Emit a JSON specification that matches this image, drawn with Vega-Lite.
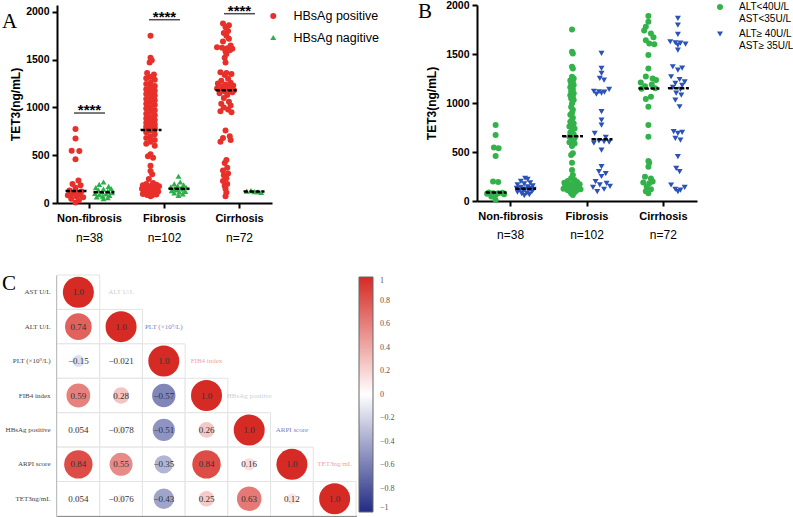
{
"$schema": "https://vega.github.io/schema/vega-lite/v6.json",
"autosize": {"type": "pad"},
"padding": {"left": 2, "top": 0, "right": 0, "bottom": 0},
"background": "white",
"columns": 2,
"spacing": {"row": 72, "column": 121},
"bounds": "flush",
"resolve": {"scale": {"color": "independent", "shape": "independent", "fill": "independent"}, "legend": {"color": "independent", "shape": "independent"}},
"config": {
  "view": {"stroke": null},
  "font": "Liberation Sans",
  "axis": {"zindex": 1, "grid": false, "domainColor": "#000", "tickColor": "#000", "labelColor": "#000", "titleColor": "#000", "domainWidth": 2, "tickWidth": 2, "tickSize": 5},
  "legend": {"labelColor": "#000"},
  "title": {"fontWeight": "normal", "color": "#000"}
},
"datasets": {
  "A_pos": [
    {"g":"Non-fibrosis","v":774,"j":0},{"g":"Non-fibrosis","v":676,"j":0},{"g":"Non-fibrosis","v":548,"j":-0.45},{"g":"Non-fibrosis","v":545,"j":0.45},{"g":"Non-fibrosis","v":458,"j":0},{"g":"Non-fibrosis","v":236,"j":0.35},{"g":"Non-fibrosis","v":200,"j":-0.35},{"g":"Non-fibrosis","v":185,"j":0.6},{"g":"Non-fibrosis","v":160,"j":0},{"g":"Non-fibrosis","v":130,"j":-0.7},{"g":"Non-fibrosis","v":120,"j":0.7},{"g":"Non-fibrosis","v":110,"j":0},{"g":"Non-fibrosis","v":100,"j":-0.4},{"g":"Non-fibrosis","v":90,"j":0.5},{"g":"Non-fibrosis","v":80,"j":-0.9},{"g":"Non-fibrosis","v":70,"j":0.1},{"g":"Non-fibrosis","v":60,"j":0.9},{"g":"Non-fibrosis","v":45,"j":-0.5},{"g":"Non-fibrosis","v":30,"j":0.4},{"g":"Non-fibrosis","v":5,"j":0},
    {"g":"Fibrosis","v":1752,"j":0},{"g":"Fibrosis","v":1520,"j":0},{"g":"Fibrosis","v":1495,"j":0.15},{"g":"Fibrosis","v":1470,"j":-0.1},{"g":"Fibrosis","v":1360,"j":-0.4},{"g":"Fibrosis","v":1345,"j":0.4},{"g":"Fibrosis","v":1320,"j":0},{"g":"Fibrosis","v":1305,"j":-0.5},{"g":"Fibrosis","v":1290,"j":0.5},{"g":"Fibrosis","v":1260,"j":0},{"g":"Fibrosis","v":1245,"j":-0.5},{"g":"Fibrosis","v":1225,"j":0.5},{"g":"Fibrosis","v":1210,"j":0},{"g":"Fibrosis","v":1190,"j":-0.5},{"g":"Fibrosis","v":1175,"j":0.5},{"g":"Fibrosis","v":1160,"j":0},{"g":"Fibrosis","v":1140,"j":-0.5},{"g":"Fibrosis","v":1125,"j":0.5},{"g":"Fibrosis","v":1110,"j":0},{"g":"Fibrosis","v":1090,"j":-0.5},{"g":"Fibrosis","v":1075,"j":0.5},{"g":"Fibrosis","v":1060,"j":0},{"g":"Fibrosis","v":1040,"j":-0.5},{"g":"Fibrosis","v":1025,"j":0.5},{"g":"Fibrosis","v":1005,"j":0},{"g":"Fibrosis","v":990,"j":-0.5},{"g":"Fibrosis","v":970,"j":0.5},{"g":"Fibrosis","v":955,"j":0},{"g":"Fibrosis","v":935,"j":-0.5},{"g":"Fibrosis","v":920,"j":0.5},{"g":"Fibrosis","v":900,"j":0},{"g":"Fibrosis","v":885,"j":-0.5},{"g":"Fibrosis","v":870,"j":0.5},{"g":"Fibrosis","v":855,"j":0},{"g":"Fibrosis","v":840,"j":-0.5},{"g":"Fibrosis","v":825,"j":0.5},{"g":"Fibrosis","v":810,"j":0},{"g":"Fibrosis","v":800,"j":-0.5},{"g":"Fibrosis","v":790,"j":0.5},{"g":"Fibrosis","v":780,"j":0},{"g":"Fibrosis","v":772,"j":-0.5},{"g":"Fibrosis","v":766,"j":0.5},
    {"g":"Fibrosis","v":760,"j":0},{"g":"Fibrosis","v":740,"j":-0.5},{"g":"Fibrosis","v":720,"j":0.5},{"g":"Fibrosis","v":700,"j":0},{"g":"Fibrosis","v":680,"j":-0.5},{"g":"Fibrosis","v":660,"j":0.5},{"g":"Fibrosis","v":640,"j":0},{"g":"Fibrosis","v":620,"j":-0.5},{"g":"Fibrosis","v":600,"j":0.5},{"g":"Fibrosis","v":510,"j":0},{"g":"Fibrosis","v":490,"j":-0.3},{"g":"Fibrosis","v":475,"j":0.3},{"g":"Fibrosis","v":390,"j":0},{"g":"Fibrosis","v":335,"j":0},{"g":"Fibrosis","v":300,"j":0.2},{"g":"Fibrosis","v":250,"j":-0.2},{"g":"Fibrosis","v":210,"j":0.3},{"g":"Fibrosis","v":200,"j":-0.5},{"g":"Fibrosis","v":190,"j":0.7},{"g":"Fibrosis","v":185,"j":-0.9},{"g":"Fibrosis","v":180,"j":0.1},{"g":"Fibrosis","v":175,"j":1},{"g":"Fibrosis","v":170,"j":-0.3},{"g":"Fibrosis","v":165,"j":0.5},{"g":"Fibrosis","v":160,"j":-0.7},{"g":"Fibrosis","v":155,"j":0.2},{"g":"Fibrosis","v":150,"j":-1},{"g":"Fibrosis","v":145,"j":0.8},{"g":"Fibrosis","v":140,"j":-0.4},{"g":"Fibrosis","v":135,"j":0.4},{"g":"Fibrosis","v":130,"j":-0.8},{"g":"Fibrosis","v":125,"j":0},{"g":"Fibrosis","v":120,"j":0.9},{"g":"Fibrosis","v":115,"j":-0.6},{"g":"Fibrosis","v":110,"j":0.6},{"g":"Fibrosis","v":105,"j":-0.2},{"g":"Fibrosis","v":100,"j":0.3},{"g":"Fibrosis","v":95,"j":-0.9},{"g":"Fibrosis","v":90,"j":0.7},{"g":"Fibrosis","v":85,"j":-0.4},{"g":"Fibrosis","v":80,"j":0.2},{"g":"Fibrosis","v":70,"j":0},
    {"g":"Cirrhosis","v":1880,"j":-0.3},{"g":"Cirrhosis","v":1860,"j":0.4},{"g":"Cirrhosis","v":1840,"j":0},{"g":"Cirrhosis","v":1800,"j":0.3},{"g":"Cirrhosis","v":1780,"j":-0.2},{"g":"Cirrhosis","v":1750,"j":0.1},{"g":"Cirrhosis","v":1720,"j":0.4},{"g":"Cirrhosis","v":1690,"j":-0.3},{"g":"Cirrhosis","v":1650,"j":0.6},{"g":"Cirrhosis","v":1630,"j":-1},{"g":"Cirrhosis","v":1625,"j":-0.4},{"g":"Cirrhosis","v":1620,"j":0.2},{"g":"Cirrhosis","v":1615,"j":0.8},{"g":"Cirrhosis","v":1600,"j":0.5},{"g":"Cirrhosis","v":1590,"j":0},{"g":"Cirrhosis","v":1560,"j":0.1},{"g":"Cirrhosis","v":1520,"j":-0.1},{"g":"Cirrhosis","v":1470,"j":0},{"g":"Cirrhosis","v":1370,"j":-0.6},{"g":"Cirrhosis","v":1360,"j":0.1},{"g":"Cirrhosis","v":1350,"j":0.7},{"g":"Cirrhosis","v":1340,"j":-0.1},{"g":"Cirrhosis","v":1300,"j":0.3},{"g":"Cirrhosis","v":1280,"j":-0.5},{"g":"Cirrhosis","v":1260,"j":0.6},{"g":"Cirrhosis","v":1250,"j":-0.9},{"g":"Cirrhosis","v":1240,"j":0},{"g":"Cirrhosis","v":1230,"j":0.9},{"g":"Cirrhosis","v":1220,"j":-0.4},{"g":"Cirrhosis","v":1210,"j":0.4},{"g":"Cirrhosis","v":1200,"j":-1},{"g":"Cirrhosis","v":1185,"j":0.1},{"g":"Cirrhosis","v":1180,"j":1},{"g":"Cirrhosis","v":1178,"j":-0.5},{"g":"Cirrhosis","v":1175,"j":0.5},{"g":"Cirrhosis","v":1170,"j":-0.1},{"g":"Cirrhosis","v":1160,"j":0.8},{"g":"Cirrhosis","v":1150,"j":-0.7},{"g":"Cirrhosis","v":1130,"j":0.2},{"g":"Cirrhosis","v":1100,"j":-0.2},{"g":"Cirrhosis","v":1060,"j":0.4},{"g":"Cirrhosis","v":1040,"j":-0.5},{"g":"Cirrhosis","v":1020,"j":0.6},{"g":"Cirrhosis","v":1000,"j":-0.2},{"g":"Cirrhosis","v":980,"j":0.3},{"g":"Cirrhosis","v":960,"j":-0.6},{"g":"Cirrhosis","v":950,"j":0.7},{"g":"Cirrhosis","v":760,"j":0},{"g":"Cirrhosis","v":700,"j":0.5},{"g":"Cirrhosis","v":680,"j":-0.3},{"g":"Cirrhosis","v":660,"j":0.6},{"g":"Cirrhosis","v":640,"j":-0.6},{"g":"Cirrhosis","v":450,"j":0.1},{"g":"Cirrhosis","v":420,"j":-0.1},{"g":"Cirrhosis","v":370,"j":0.2},{"g":"Cirrhosis","v":340,"j":-0.3},{"g":"Cirrhosis","v":310,"j":0.3},{"g":"Cirrhosis","v":290,"j":-0.2},{"g":"Cirrhosis","v":260,"j":0.1},{"g":"Cirrhosis","v":230,"j":-0.3},{"g":"Cirrhosis","v":200,"j":0.2},{"g":"Cirrhosis","v":180,"j":-0.1},{"g":"Cirrhosis","v":150,"j":0},{"g":"Cirrhosis","v":110,"j":0.1},{"g":"Cirrhosis","v":70,"j":0}
  ],
  "A_neg": [
    {"g":"Non-fibrosis","v":220,"j":0},{"g":"Non-fibrosis","v":195,"j":-0.5},{"g":"Non-fibrosis","v":175,"j":0.6},{"g":"Non-fibrosis","v":160,"j":-0.9},{"g":"Non-fibrosis","v":152,"j":0.9},{"g":"Non-fibrosis","v":145,"j":0},{"g":"Non-fibrosis","v":135,"j":-0.6},{"g":"Non-fibrosis","v":125,"j":0.5},{"g":"Non-fibrosis","v":115,"j":-0.2},{"g":"Non-fibrosis","v":108,"j":1},{"g":"Non-fibrosis","v":100,"j":-1},{"g":"Non-fibrosis","v":95,"j":0.3},{"g":"Non-fibrosis","v":88,"j":-0.5},{"g":"Non-fibrosis","v":80,"j":0.7},{"g":"Non-fibrosis","v":72,"j":-0.1},{"g":"Non-fibrosis","v":64,"j":-0.8},{"g":"Non-fibrosis","v":55,"j":0.5},{"g":"Non-fibrosis","v":45,"j":0},
    {"g":"Fibrosis","v":280,"j":0},{"g":"Fibrosis","v":220,"j":0.2},{"g":"Fibrosis","v":200,"j":-0.5},{"g":"Fibrosis","v":190,"j":0.6},{"g":"Fibrosis","v":178,"j":-0.1},{"g":"Fibrosis","v":168,"j":-0.9},{"g":"Fibrosis","v":160,"j":0.9},{"g":"Fibrosis","v":155,"j":0.3},{"g":"Fibrosis","v":150,"j":-0.5},{"g":"Fibrosis","v":145,"j":0.6},{"g":"Fibrosis","v":138,"j":-0.2},{"g":"Fibrosis","v":130,"j":-0.8},{"g":"Fibrosis","v":122,"j":0.8},{"g":"Fibrosis","v":115,"j":0.1},{"g":"Fibrosis","v":105,"j":-0.5},{"g":"Fibrosis","v":95,"j":0.5},{"g":"Fibrosis","v":80,"j":0},
    {"g":"Cirrhosis","v":125,"j":-0.8},{"g":"Cirrhosis","v":130,"j":-0.3},{"g":"Cirrhosis","v":120,"j":0.1},{"g":"Cirrhosis","v":118,"j":0.5},{"g":"Cirrhosis","v":112,"j":0.9}
  ],
  "A_sig": [
    {"g":"Non-fibrosis","v":942},{"g":"Fibrosis","v":1919},{"g":"Cirrhosis","v":1982}
  ],
  "B_low": [
    {"g":"Non-fibrosis","v":775,"j":0},{"g":"Non-fibrosis","v":673,"j":0},{"g":"Non-fibrosis","v":547,"j":-0.2},{"g":"Non-fibrosis","v":537,"j":0.35},{"g":"Non-fibrosis","v":459,"j":0},{"g":"Non-fibrosis","v":200,"j":-0.3},{"g":"Non-fibrosis","v":194,"j":0.3},{"g":"Non-fibrosis","v":88,"j":-0.8},{"g":"Non-fibrosis","v":84,"j":0.8},{"g":"Non-fibrosis","v":80,"j":-0.3},{"g":"Non-fibrosis","v":78,"j":0.3},{"g":"Non-fibrosis","v":75,"j":-1},{"g":"Non-fibrosis","v":70,"j":1},{"g":"Non-fibrosis","v":60,"j":0},{"g":"Non-fibrosis","v":45,"j":-0.5},{"g":"Non-fibrosis","v":10,"j":0},
    {"g":"Fibrosis","v":1751,"j":0},{"g":"Fibrosis","v":1523,"j":0},{"g":"Fibrosis","v":1506,"j":0.1},{"g":"Fibrosis","v":1370,"j":0},{"g":"Fibrosis","v":1353,"j":0.1},{"g":"Fibrosis","v":1268,"j":0},{"g":"Fibrosis","v":1250,"j":0.2},{"g":"Fibrosis","v":1230,"j":-0.2},{"g":"Fibrosis","v":1215,"j":0.1},{"g":"Fibrosis","v":1200,"j":-0.1},{"g":"Fibrosis","v":1183,"j":0.2},{"g":"Fibrosis","v":1160,"j":-0.2},{"g":"Fibrosis","v":1140,"j":0.1},{"g":"Fibrosis","v":1120,"j":-0.1},{"g":"Fibrosis","v":1100,"j":0.2},{"g":"Fibrosis","v":1080,"j":-0.2},{"g":"Fibrosis","v":1060,"j":0.1},{"g":"Fibrosis","v":1045,"j":-0.1},{"g":"Fibrosis","v":1030,"j":0.2},{"g":"Fibrosis","v":996,"j":0},{"g":"Fibrosis","v":960,"j":-0.1},{"g":"Fibrosis","v":930,"j":0.1},{"g":"Fibrosis","v":900,"j":0},{"g":"Fibrosis","v":880,"j":-0.2},{"g":"Fibrosis","v":850,"j":0.1},{"g":"Fibrosis","v":826,"j":0},{"g":"Fibrosis","v":809,"j":-0.2},{"g":"Fibrosis","v":790,"j":0.2},{"g":"Fibrosis","v":775,"j":0},{"g":"Fibrosis","v":760,"j":-0.3},{"g":"Fibrosis","v":741,"j":0.3},{"g":"Fibrosis","v":720,"j":0},{"g":"Fibrosis","v":700,"j":-0.2},{"g":"Fibrosis","v":680,"j":0.2},{"g":"Fibrosis","v":665,"j":0},
    {"g":"Fibrosis","v":656,"j":-0.3},{"g":"Fibrosis","v":640,"j":0.3},{"g":"Fibrosis","v":620,"j":0},{"g":"Fibrosis","v":600,"j":-0.3},{"g":"Fibrosis","v":588,"j":0.3},{"g":"Fibrosis","v":560,"j":0},{"g":"Fibrosis","v":486,"j":0.1},{"g":"Fibrosis","v":469,"j":-0.1},{"g":"Fibrosis","v":391,"j":0},{"g":"Fibrosis","v":316,"j":0},{"g":"Fibrosis","v":265,"j":0.1},{"g":"Fibrosis","v":231,"j":-0.1},{"g":"Fibrosis","v":214,"j":0.3},{"g":"Fibrosis","v":205,"j":-0.5},{"g":"Fibrosis","v":195,"j":0.6},{"g":"Fibrosis","v":185,"j":-0.9},{"g":"Fibrosis","v":175,"j":0.1},{"g":"Fibrosis","v":170,"j":0.9},{"g":"Fibrosis","v":165,"j":-0.4},{"g":"Fibrosis","v":160,"j":0.5},{"g":"Fibrosis","v":155,"j":-0.8},{"g":"Fibrosis","v":150,"j":0.2},{"g":"Fibrosis","v":145,"j":-0.2},{"g":"Fibrosis","v":140,"j":0.8},{"g":"Fibrosis","v":135,"j":-0.6},{"g":"Fibrosis","v":130,"j":0.4},{"g":"Fibrosis","v":125,"j":-1},{"g":"Fibrosis","v":120,"j":1},{"g":"Fibrosis","v":115,"j":0},{"g":"Fibrosis","v":110,"j":-0.5},{"g":"Fibrosis","v":105,"j":0.5},{"g":"Fibrosis","v":100,"j":-0.2},{"g":"Fibrosis","v":90,"j":0.3},{"g":"Fibrosis","v":80,"j":-0.1},{"g":"Fibrosis","v":61,"j":0.1},
    {"g":"Cirrhosis","v":1887,"j":0},{"g":"Cirrhosis","v":1829,"j":0},{"g":"Cirrhosis","v":1778,"j":-0.3},{"g":"Cirrhosis","v":1740,"j":-0.5},{"g":"Cirrhosis","v":1710,"j":0.3},{"g":"Cirrhosis","v":1670,"j":0.6},{"g":"Cirrhosis","v":1640,"j":-0.3},{"g":"Cirrhosis","v":1608,"j":0.1},{"g":"Cirrhosis","v":1600,"j":0.7},{"g":"Cirrhosis","v":1489,"j":0},{"g":"Cirrhosis","v":1353,"j":0},{"g":"Cirrhosis","v":1270,"j":-0.3},{"g":"Cirrhosis","v":1251,"j":0.5},{"g":"Cirrhosis","v":1234,"j":0.9},{"g":"Cirrhosis","v":1210,"j":-0.9},{"g":"Cirrhosis","v":1190,"j":0.4},{"g":"Cirrhosis","v":1170,"j":-0.4},{"g":"Cirrhosis","v":1150,"j":0.8},{"g":"Cirrhosis","v":1145,"j":-0.8},{"g":"Cirrhosis","v":1064,"j":0.3},{"g":"Cirrhosis","v":1040,"j":-0.3},{"g":"Cirrhosis","v":962,"j":0},{"g":"Cirrhosis","v":775,"j":0},{"g":"Cirrhosis","v":656,"j":0},{"g":"Cirrhosis","v":408,"j":0},{"g":"Cirrhosis","v":390,"j":0.1},{"g":"Cirrhosis","v":350,"j":0},{"g":"Cirrhosis","v":248,"j":-0.4},{"g":"Cirrhosis","v":230,"j":0.3},{"g":"Cirrhosis","v":200,"j":0.5},{"g":"Cirrhosis","v":190,"j":-0.6},{"g":"Cirrhosis","v":180,"j":0.1},{"g":"Cirrhosis","v":146,"j":-0.2},{"g":"Cirrhosis","v":120,"j":0.3},{"g":"Cirrhosis","v":100,"j":-0.3},{"g":"Cirrhosis","v":78,"j":0}
  ],
  "B_high": [
    {"g":"Non-fibrosis","v":232,"j":0},{"g":"Non-fibrosis","v":220,"j":0.3},{"g":"Non-fibrosis","v":200,"j":-0.5},{"g":"Non-fibrosis","v":185,"j":0.6},{"g":"Non-fibrosis","v":175,"j":-0.1},{"g":"Non-fibrosis","v":165,"j":-0.9},{"g":"Non-fibrosis","v":155,"j":0.9},{"g":"Non-fibrosis","v":145,"j":0.3},{"g":"Non-fibrosis","v":140,"j":-0.5},{"g":"Non-fibrosis","v":130,"j":-1},{"g":"Non-fibrosis","v":128,"j":0.7},{"g":"Non-fibrosis","v":122,"j":0},{"g":"Non-fibrosis","v":118,"j":1},{"g":"Non-fibrosis","v":110,"j":-0.6},{"g":"Non-fibrosis","v":105,"j":0.4},{"g":"Non-fibrosis","v":100,"j":-0.2},{"g":"Non-fibrosis","v":95,"j":0.8},{"g":"Non-fibrosis","v":90,"j":-0.9},{"g":"Non-fibrosis","v":80,"j":0.2},{"g":"Non-fibrosis","v":75,"j":-0.4},{"g":"Non-fibrosis","v":65,"j":0.5},{"g":"Non-fibrosis","v":55,"j":-0.1},
    {"g":"Fibrosis","v":1506,"j":0},{"g":"Fibrosis","v":1353,"j":0},{"g":"Fibrosis","v":1302,"j":0},{"g":"Fibrosis","v":1251,"j":-0.2},{"g":"Fibrosis","v":1234,"j":0.3},{"g":"Fibrosis","v":1140,"j":0.9},{"g":"Fibrosis","v":1120,"j":-0.9},{"g":"Fibrosis","v":1115,"j":-0.3},{"g":"Fibrosis","v":1110,"j":0.35},{"g":"Fibrosis","v":1100,"j":0},{"g":"Fibrosis","v":1090,"j":-0.6},{"g":"Fibrosis","v":911,"j":0},{"g":"Fibrosis","v":826,"j":0},{"g":"Fibrosis","v":775,"j":0},{"g":"Fibrosis","v":690,"j":-0.8},{"g":"Fibrosis","v":650,"j":0.5},{"g":"Fibrosis","v":612,"j":-0.3},{"g":"Fibrosis","v":605,"j":0.3},{"g":"Fibrosis","v":600,"j":0.9},{"g":"Fibrosis","v":590,"j":-0.9},{"g":"Fibrosis","v":520,"j":0},{"g":"Fibrosis","v":350,"j":0},{"g":"Fibrosis","v":299,"j":-0.3},{"g":"Fibrosis","v":280,"j":0.5},{"g":"Fibrosis","v":250,"j":0},{"g":"Fibrosis","v":197,"j":-0.7},{"g":"Fibrosis","v":180,"j":0.6},{"g":"Fibrosis","v":165,"j":-0.2},{"g":"Fibrosis","v":150,"j":1},{"g":"Fibrosis","v":140,"j":-1},{"g":"Fibrosis","v":120,"j":0.3},{"g":"Fibrosis","v":95,"j":-0.5},
    {"g":"Cirrhosis","v":1863,"j":0},{"g":"Cirrhosis","v":1795,"j":0},{"g":"Cirrhosis","v":1700,"j":0},{"g":"Cirrhosis","v":1625,"j":-0.9},{"g":"Cirrhosis","v":1615,"j":-0.3},{"g":"Cirrhosis","v":1610,"j":0.3},{"g":"Cirrhosis","v":1600,"j":0.9},{"g":"Cirrhosis","v":1590,"j":0},{"g":"Cirrhosis","v":1540,"j":0},{"g":"Cirrhosis","v":1370,"j":-0.6},{"g":"Cirrhosis","v":1355,"j":0.5},{"g":"Cirrhosis","v":1336,"j":0},{"g":"Cirrhosis","v":1268,"j":-0.8},{"g":"Cirrhosis","v":1240,"j":0.2},{"g":"Cirrhosis","v":1215,"j":0.8},{"g":"Cirrhosis","v":1200,"j":-0.3},{"g":"Cirrhosis","v":1180,"j":0.5},{"g":"Cirrhosis","v":1160,"j":-0.6},{"g":"Cirrhosis","v":1140,"j":0.3},{"g":"Cirrhosis","v":1100,"j":-0.2},{"g":"Cirrhosis","v":1080,"j":0.4},{"g":"Cirrhosis","v":1030,"j":-0.3},{"g":"Cirrhosis","v":962,"j":0.2},{"g":"Cirrhosis","v":707,"j":-0.5},{"g":"Cirrhosis","v":700,"j":0.5},{"g":"Cirrhosis","v":690,"j":0},{"g":"Cirrhosis","v":640,"j":-0.3},{"g":"Cirrhosis","v":622,"j":0.3},{"g":"Cirrhosis","v":452,"j":0},{"g":"Cirrhosis","v":333,"j":-0.2},{"g":"Cirrhosis","v":299,"j":0.2},{"g":"Cirrhosis","v":163,"j":-0.8},{"g":"Cirrhosis","v":140,"j":0.8},{"g":"Cirrhosis","v":120,"j":-0.3},{"g":"Cirrhosis","v":110,"j":0.3},{"g":"Cirrhosis","v":95,"j":0}
  ],
  "corr": [
    {"row":"AST U/L","col":"AST U/L","r":1.0},
    {"row":"ALT U/L","col":"AST U/L","r":0.74},{"row":"ALT U/L","col":"ALT U/L","r":1.0},
    {"row":"PLT (×10⁹/L)","col":"AST U/L","r":-0.15},{"row":"PLT (×10⁹/L)","col":"ALT U/L","r":-0.021},{"row":"PLT (×10⁹/L)","col":"PLT (×10⁹/L)","r":1.0},
    {"row":"FIB4 index","col":"AST U/L","r":0.59},{"row":"FIB4 index","col":"ALT U/L","r":0.28},{"row":"FIB4 index","col":"PLT (×10⁹/L)","r":-0.57},{"row":"FIB4 index","col":"FIB4 index","r":1.0},
    {"row":"HBsAg positive","col":"AST U/L","r":0.054},{"row":"HBsAg positive","col":"ALT U/L","r":-0.078},{"row":"HBsAg positive","col":"PLT (×10⁹/L)","r":-0.51},{"row":"HBsAg positive","col":"FIB4 index","r":0.26},{"row":"HBsAg positive","col":"HBsAg positive","r":1.0},
    {"row":"ARPI score","col":"AST U/L","r":0.84},{"row":"ARPI score","col":"ALT U/L","r":0.55},{"row":"ARPI score","col":"PLT (×10⁹/L)","r":-0.35},{"row":"ARPI score","col":"FIB4 index","r":0.84},{"row":"ARPI score","col":"HBsAg positive","r":0.16},{"row":"ARPI score","col":"ARPI score","r":1.0},
    {"row":"TET3ng/mL","col":"AST U/L","r":0.054},{"row":"TET3ng/mL","col":"ALT U/L","r":-0.076},{"row":"TET3ng/mL","col":"PLT (×10⁹/L)","r":-0.43},{"row":"TET3ng/mL","col":"FIB4 index","r":0.25},{"row":"TET3ng/mL","col":"HBsAg positive","r":0.63},{"row":"TET3ng/mL","col":"ARPI score","r":0.12},{"row":"TET3ng/mL","col":"TET3ng/mL","r":1.0}
  ],
  "corrHead": [
    {"row":"AST U/L","col":"ALT U/L","label":"ALT U/L"},
    {"row":"ALT U/L","col":"PLT (×10⁹/L)","label":"PLT (×10⁹/L)"},
    {"row":"PLT (×10⁹/L)","col":"FIB4 index","label":"FIB4 index"},
    {"row":"FIB4 index","col":"HBsAg positive","label":"HBsAg positive"},
    {"row":"HBsAg positive","col":"ARPI score","label":"ARPI score"},
    {"row":"ARPI score","col":"TET3ng/mL","label":"TET3ng/mL"}
  ]
},
"concat": [
  {
    "width": 215, "height": 198,
    "title": {"text": "A", "anchor": "start", "frame": "group", "orient": "top", "font": "Liberation Serif", "fontSize": 21, "baseline": "top", "offset": 0, "dx": -55, "dy": 28},
    "resolve": {"scale": {"xOffset": "independent"}, "axis": {"x": "independent"}},
    "layer": [
      {
        "data": {"name": "A_pos"},
        "mark": {"type": "point", "filled": true, "size": 36, "opacity": 1, "strokeWidth": 0},
        "encoding": {
          "x": {"field": "g", "type": "nominal", "scale": {"domain": ["Non-fibrosis","Fibrosis","Cirrhosis"], "paddingInner": 0.5, "paddingOuter": 0.183},
                "axis": {"orient": "bottom", "title": null, "labelAngle": 0, "labelFontWeight": "bold", "labelFontSize": 11, "labelPadding": 4}},
          "xOffset": {"field": "j", "type": "quantitative", "scale": {"domain": [-1, 1], "range": [-3.74, 13.26]}},
          "y": {"field": "v", "type": "quantitative", "scale": {"domain": [0, 2073], "nice": false},
                "axis": {"title": "TET3(ng/mL)", "values": [0,500,1000,1500,2000], "format": "d", "labelFontWeight": "bold", "labelFontSize": 10.5, "labelPadding": 3, "titleFontSize": 12, "titleFontWeight": "bold", "titlePadding": 3}},
          "color": {"datum": "HBsAg positive", "scale": {"domain": ["HBsAg positive","HBsAg nagitive"], "range": ["#e8302a","#2eaf49"]},
                    "legend": {"orient": "none", "legendX": 210, "legendY": 4.75, "title": null, "padding": 0, "labelFont": "Liberation Sans", "labelFontSize": 12.5, "symbolSize": 36, "rowPadding": 8.5, "labelOffset": 14}},
          "shape": {"datum": "HBsAg positive", "scale": {"domain": ["HBsAg positive","HBsAg nagitive"], "range": ["circle","triangle-up"]},
                    "legend": {"orient": "none", "legendX": 210, "legendY": 4.75, "title": null, "padding": 0, "labelFont": "Liberation Sans", "labelFontSize": 12.5, "symbolSize": 36, "rowPadding": 8.5, "labelOffset": 14}}
        }
      },
      {
        "data": {"name": "A_neg"},
        "mark": {"type": "point", "filled": true, "size": 36, "opacity": 1, "strokeWidth": 0},
        "encoding": {
          "x": {"field": "g", "type": "nominal", "scale": {"domain": ["Non-fibrosis","Fibrosis","Cirrhosis"], "paddingInner": 0.5, "paddingOuter": 0.183}, "axis": null},
          "xOffset": {"field": "j", "type": "quantitative", "scale": {"domain": [-1, 1], "range": [24.26, 41.26]}},
          "y": {"field": "v", "type": "quantitative", "scale": {"domain": [0, 2073], "nice": false}, "title": "TET3(ng/mL)"},
          "color": {"datum": "HBsAg nagitive"},
          "shape": {"datum": "HBsAg nagitive"}
        }
      },
      {
        "data": {"name": "A_pos"},
        "mark": {"type": "tick", "orient": "horizontal", "xOffset": -14, "size": 20, "thickness": 0.5, "filled": false, "stroke": "#000", "strokeWidth": 2, "strokeDash": [4, 2]},
        "encoding": {
          "x": {"field": "g", "type": "nominal", "scale": {"domain": ["Non-fibrosis","Fibrosis","Cirrhosis"], "paddingInner": 0.5, "paddingOuter": 0.183}, "axis": null},
          "y": {"aggregate": "median", "field": "v", "type": "quantitative", "scale": {"domain": [0, 2073], "nice": false}, "title": "TET3(ng/mL)"}
        }
      },
      {
        "data": {"name": "A_neg"},
        "mark": {"type": "tick", "orient": "horizontal", "xOffset": 14, "size": 20, "thickness": 0.5, "filled": false, "stroke": "#000", "strokeWidth": 2, "strokeDash": [4, 2]},
        "encoding": {
          "x": {"field": "g", "type": "nominal", "scale": {"domain": ["Non-fibrosis","Fibrosis","Cirrhosis"], "paddingInner": 0.5, "paddingOuter": 0.183}, "axis": null},
          "y": {"aggregate": "median", "field": "v", "type": "quantitative", "scale": {"domain": [0, 2073], "nice": false}, "title": "TET3(ng/mL)"}
        }
      },
      {
        "data": {"name": "A_sig"},
        "mark": {"type": "tick", "orient": "horizontal", "size": 31, "thickness": 1.5, "color": "#000"},
        "encoding": {
          "x": {"field": "g", "type": "nominal", "scale": {"domain": ["Non-fibrosis","Fibrosis","Cirrhosis"], "paddingInner": 0.5, "paddingOuter": 0.183},
                "axis": {"orient": "bottom", "title": null, "domain": false, "ticks": false, "labelAngle": 0, "labelFontSize": 12, "labelFontWeight": "normal", "labelPadding": 29,
                         "labelExpr": "datum.value == 'Non-fibrosis' ? 'n=38' : datum.value == 'Fibrosis' ? 'n=102' : 'n=72'"}},
          "y": {"field": "v", "type": "quantitative", "scale": {"domain": [0, 2073], "nice": false}, "title": "TET3(ng/mL)"}
        }
      },
      {
        "data": {"name": "A_sig"},
        "mark": {"type": "text", "text": "****", "font": "Liberation Sans", "fontSize": 15, "fontWeight": "bold", "baseline": "alphabetic", "dy": 2, "color": "#000"},
        "encoding": {
          "x": {"field": "g", "type": "nominal", "scale": {"domain": ["Non-fibrosis","Fibrosis","Cirrhosis"], "paddingInner": 0.5, "paddingOuter": 0.183}, "axis": null},
          "y": {"field": "v", "type": "quantitative", "scale": {"domain": [0, 2073], "nice": false}, "title": "TET3(ng/mL)"}
        }
      }
    ]
  },
  {
    "width": 220, "height": 196,
    "title": {"text": "B", "anchor": "start", "frame": "group", "orient": "top", "font": "Liberation Serif", "fontSize": 21, "baseline": "top", "offset": 0, "dx": -59, "dy": 22},
    "resolve": {"scale": {"xOffset": "independent"}, "axis": {"x": "independent"}},
    "layer": [
      {
        "data": {"name": "B_low"},
        "mark": {"type": "point", "filled": true, "size": 36, "opacity": 1, "strokeWidth": 0},
        "encoding": {
          "x": {"field": "g", "type": "nominal", "scale": {"domain": ["Non-fibrosis","Fibrosis","Cirrhosis"], "paddingInner": 0.5, "paddingOuter": 0.19},
                "axis": {"orient": "bottom", "title": null, "labelAngle": 0, "labelFontWeight": "bold", "labelFontSize": 11, "labelPadding": 4}},
          "xOffset": {"field": "j", "type": "quantitative", "scale": {"domain": [-1, 1], "range": [-4.4, 12.6]}},
          "y": {"field": "v", "type": "quantitative", "scale": {"domain": [0, 2000], "nice": false},
                "axis": {"title": "TET3(ng/mL)", "values": [0,500,1000,1500,2000], "format": "d", "labelFontWeight": "bold", "labelFontSize": 10.5, "labelPadding": 3, "titleFontSize": 12, "titleFontWeight": "bold", "titlePadding": 7}},
          "color": {"datum": "ALT<40U/L|AST<35U/L", "scale": {"domain": ["ALT<40U/L|AST<35U/L","ALT≥ 40U/L|AST≥ 35U/L"], "range": ["#33b24a","#2a52b8"]},
                    "legend": {"orient": "none", "legendX": 238, "legendY": -3, "title": null, "padding": 0, "labelFont": "Liberation Sans", "labelFontSize": 10, "symbolSize": 36, "rowPadding": 5, "labelOffset": 14, "labelExpr": "split(datum.label, '|')"}},
          "shape": {"datum": "ALT<40U/L|AST<35U/L", "scale": {"domain": ["ALT<40U/L|AST<35U/L","ALT≥ 40U/L|AST≥ 35U/L"], "range": ["circle","triangle-down"]},
                    "legend": {"orient": "none", "legendX": 238, "legendY": -3, "title": null, "padding": 0, "labelFont": "Liberation Sans", "labelFontSize": 10, "symbolSize": 36, "rowPadding": 5, "labelOffset": 14, "labelExpr": "split(datum.label, '|')"}}
        }
      },
      {
        "data": {"name": "B_high"},
        "mark": {"type": "point", "filled": true, "size": 36, "opacity": 1, "strokeWidth": 0},
        "encoding": {
          "x": {"field": "g", "type": "nominal", "scale": {"domain": ["Non-fibrosis","Fibrosis","Cirrhosis"], "paddingInner": 0.5, "paddingOuter": 0.19}, "axis": null},
          "xOffset": {"field": "j", "type": "quantitative", "scale": {"domain": [-1, 1], "range": [25.1, 42.1]}},
          "y": {"field": "v", "type": "quantitative", "scale": {"domain": [0, 2000], "nice": false}, "title": "TET3(ng/mL)"},
          "color": {"datum": "ALT≥ 40U/L|AST≥ 35U/L"},
          "shape": {"datum": "ALT≥ 40U/L|AST≥ 35U/L"}
        }
      },
      {
        "data": {"name": "B_low"},
        "mark": {"type": "tick", "orient": "horizontal", "xOffset": -15, "size": 20, "thickness": 0.5, "filled": false, "stroke": "#000", "strokeWidth": 2, "strokeDash": [4, 2]},
        "encoding": {
          "x": {"field": "g", "type": "nominal", "scale": {"domain": ["Non-fibrosis","Fibrosis","Cirrhosis"], "paddingInner": 0.5, "paddingOuter": 0.19}, "axis": null},
          "y": {"aggregate": "median", "field": "v", "type": "quantitative", "scale": {"domain": [0, 2000], "nice": false}, "title": "TET3(ng/mL)"}
        }
      },
      {
        "data": {"name": "B_high"},
        "mark": {"type": "tick", "orient": "horizontal", "xOffset": 14.5, "size": 20, "thickness": 0.5, "filled": false, "stroke": "#000", "strokeWidth": 2, "strokeDash": [4, 2]},
        "encoding": {
          "x": {"field": "g", "type": "nominal", "scale": {"domain": ["Non-fibrosis","Fibrosis","Cirrhosis"], "paddingInner": 0.5, "paddingOuter": 0.19},
                "axis": {"orient": "bottom", "title": null, "domain": false, "ticks": false, "labelAngle": 0, "labelFontSize": 12, "labelFontWeight": "normal", "labelPadding": 28,
                         "labelExpr": "datum.value == 'Non-fibrosis' ? 'n=38' : datum.value == 'Fibrosis' ? 'n=102' : 'n=72'"}},
          "y": {"aggregate": "median", "field": "v", "type": "quantitative", "scale": {"domain": [0, 2000], "nice": false}, "title": "TET3(ng/mL)"}
        }
      }
    ]
  },
  {
    "width": 299, "height": 241,
    "title": {"text": "C", "anchor": "start", "frame": "group", "orient": "top", "font": "Liberation Serif", "fontSize": 21, "baseline": "top", "offset": 0, "dx": -55, "dy": 19},
    "data": {"name": "corr"},
    "encoding": {
      "x": {"field": "col", "type": "nominal", "scale": {"domain": ["AST U/L","ALT U/L","PLT (×10⁹/L)","FIB4 index","HBsAg positive","ARPI score","TET3ng/mL"], "paddingInner": 0, "paddingOuter": 0},
            "axis": {"title": null, "labels": false, "ticks": false, "domainColor": "#333", "domainWidth": 2}},
      "y": {"field": "row", "type": "nominal", "scale": {"domain": ["AST U/L","ALT U/L","PLT (×10⁹/L)","FIB4 index","HBsAg positive","ARPI score","TET3ng/mL"], "paddingInner": 0, "paddingOuter": 0},
            "axis": {"title": null, "ticks": false, "labelPadding": 7, "labelFont": "Liberation Serif", "labelFontSize": 7, "labelColor": "#444", "domainColor": "#333", "domainWidth": 2}}
    },
    "layer": [
      {"mark": {"type": "rect", "fill": "#ffffff", "stroke": "#e3e3e3", "strokeWidth": 1}},
      {
        "mark": {"type": "point", "filled": true, "shape": "circle", "opacity": 1, "strokeWidth": 0},
        "encoding": {
          "size": {"field": "r", "type": "quantitative", "scale": {"domain": [-1.0001, 0, 1.0001], "range": [961, 0, 961]}, "legend": null},
          "color": {"field": "r", "type": "quantitative", "scale": {"domain": [-1, 0, 1], "range": ["#222b85", "#ffffff", "#d62a24"], "interpolate": "rgb"},
                    "legend": {"type": "gradient", "orient": "none", "legendX": 302, "legendY": 2, "direction": "vertical", "gradientLength": 235, "gradientThickness": 14,
                               "values": [1, 0.8, 0.6, 0.4, 0.2, 0, -0.2, -0.4, -0.6, -0.8, -1], "format": "~g", "title": null, "padding": 0,
                               "labelFont": "Liberation Serif", "labelFontSize": 8, "labelColor": "#555", "labelOffset": 7, "labelBaseline": "middle", "labelOverlap": false,
                               "gradientStrokeColor": "#666", "gradientStrokeWidth": 1}}
        }
      },
      {
        "mark": {"type": "text", "font": "Liberation Serif", "fontSize": 9, "color": "#333"},
        "encoding": {"text": {"field": "r", "type": "quantitative", "format": ".2r"}}
      },
      {
        "data": {"name": "corrHead"},
        "mark": {"type": "text", "font": "Liberation Serif", "fontSize": 7},
        "encoding": {
          "text": {"field": "label", "type": "nominal"},
          "fill": {"field": "label", "type": "nominal", "scale": {"domain": ["ALT U/L","PLT (×10⁹/L)","FIB4 index","HBsAg positive","ARPI score","TET3ng/mL"], "range": ["#cfcfcf","#7b7fc6","#f2a3a3","#cfcfd6","#7b7fc6","#f2a3a3"]}, "legend": null}
        }
      }
    ]
  }
]
}
